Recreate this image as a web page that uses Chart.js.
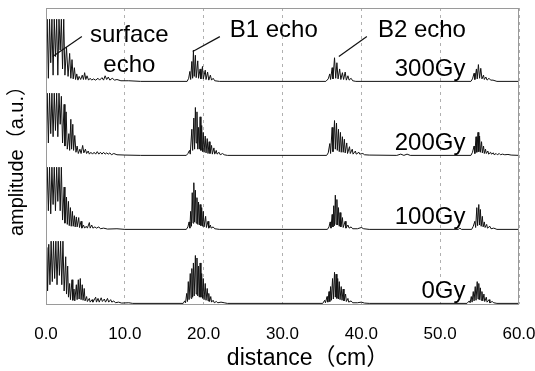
<!DOCTYPE html>
<html><head><meta charset="utf-8">
<script src="https://cdn.jsdelivr.net/npm/chart.js@4"></script>
<style>html,body{margin:0;padding:0;background:#fff}#wrap{width:535px;height:371px}</style>
</head><body><div id="wrap"><canvas id="c" width="535" height="371"></canvas></div>
<script>
// ---- data (distance in cm, amplitude in a.u., 1 = saturated) ----
const panelLabels = ['300Gy', '200Gy', '100Gy', '0Gy'];
const xTickLabels = ['0.0', '10.0', '20.0', '30.0', '40.0', '50.0', '60.0'];
const xTickValues = [0, 10, 20, 30, 40, 50, 60];

const wave300 = [
  [0,0.3],[0.15,1],[0.3,0.05],[0.45,1],[0.6,0.3],[0.75,1],[0.9,0.1],[1.05,1],[1.2,0.4],[1.35,1],[1.5,0.1],[1.65,1],[1.8,0.5],[1.95,1],[2.1,0.2],[2.25,1],[2.4,0.1],
  [2.6,0.55],[2.8,0.08],[3.0,0.45],[3.15,0.05],[3.3,0.35],[3.45,0.04],[3.6,0.22],[3.75,0.03],[3.9,0.12],[4.05,0.02],[4.2,0.08],[4.4,0.03],[4.6,0.1],[4.75,0.03],[4.9,0.14],[5.05,0.03],[5.2,0.09],[5.4,0.02],[5.6,0.05],[5.8,0.02],[6.0,0.04],[6.3,0.02],[6.6,0.05],[6.8,0.02],[7.1,0.06],[7.3,0.02],[7.5,0.09],[7.7,0.03],[7.9,0.07],[8.1,0.02],[8.4,0.05],[8.7,0.02],[9.0,0.03],[9.5,0.01],[10.5,0.01],[12,0],
  [17.9,0],[18.1,0.05],[18.25,0.16],[18.35,0.03],[18.5,0.32],[18.6,0.05],[18.7,0.5],[18.8,0.08],[18.95,0.42],[19.05,0.06],[19.25,0.33],[19.35,0.05],[19.55,0.2],[19.65,0.04],[19.85,0.24],[19.95,0.04],[20.2,0.18],[20.3,0.03],[20.5,0.15],[20.65,0.02],[20.85,0.1],[21.0,0.02],[21.2,0.05],[21.4,0.01],[22,0],
  [35.5,0],[35.8,0.04],[36.0,0.12],[36.1,0.03],[36.3,0.22],[36.4,0.04],[36.6,0.38],[36.75,0.05],[36.9,0.3],[37.05,0.04],[37.25,0.2],[37.4,0.03],[37.6,0.14],[37.75,0.03],[37.95,0.15],[38.1,0.02],[38.3,0.09],[38.45,0.02],[38.7,0.05],[38.9,0.01],[39.3,0],
  [53.9,0],[54.1,0.04],[54.3,0.13],[54.4,0.03],[54.6,0.2],[54.7,0.04],[54.85,0.27],[55.0,0.05],[55.15,0.21],[55.3,0.04],[55.5,0.1],[55.6,0.03],[55.8,0.07],[55.95,0.02],[56.2,0.05],[56.4,0.02],[56.7,0.02],[57.2,0],[60,0]
];

const wave200 = [
  [0,0.1],[0.15,1],[0.3,0.2],[0.45,1],[0.6,0.35],[0.75,1],[0.9,0.3],[1.05,1],[1.2,0.4],[1.35,1],[1.5,0.3],[1.65,1],[1.8,0.5],[1.95,0.95],[2.1,0.2],[2.3,0.82],[2.4,0.15],[2.55,0.7],[2.7,0.1],
  [2.9,0.35],[3.0,0.08],[3.15,0.58],[3.25,0.1],[3.4,0.5],[3.5,0.08],[3.65,0.32],[3.8,0.05],[3.95,0.15],[4.1,0.03],[4.3,0.1],[4.45,0.03],[4.65,0.16],[4.8,0.04],[5.0,0.1],[5.15,0.03],[5.35,0.07],[5.5,0.02],[5.7,0.05],[5.9,0.02],[6.1,0.05],[6.3,0.02],[6.5,0.06],[6.7,0.02],[6.9,0.05],[7.1,0.02],[7.3,0.05],[7.5,0.02],[7.7,0.04],[7.9,0.02],[8.1,0.04],[8.3,0.01],[8.6,0.03],[9.0,0.01],[10,0.005],[12,0],
  [17.8,0],[18.0,0.03],[18.2,0.08],[18.3,0.02],[18.5,0.42],[18.6,0.08],[18.75,0.6],[18.85,0.1],[18.95,0.77],[19.05,0.2],[19.15,0.7],[19.25,0.1],[19.35,0.45],[19.45,0.1],[19.55,0.62],[19.65,0.08],[19.75,0.48],[19.85,0.06],[19.95,0.37],[20.05,0.05],[20.2,0.31],[20.3,0.04],[20.45,0.27],[20.55,0.03],[20.7,0.22],[20.8,0.03],[21.0,0.16],[21.1,0.02],[21.3,0.12],[21.4,0.02],[21.6,0.08],[21.7,0.02],[21.95,0.05],[22.1,0.01],[22.4,0.03],[22.6,0.01],[23,0],
  [35.6,0],[35.8,0.04],[36.0,0.19],[36.1,0.03],[36.3,0.45],[36.4,0.06],[36.6,0.56],[36.7,0.1],[36.85,0.52],[36.95,0.08],[37.1,0.42],[37.2,0.06],[37.35,0.37],[37.45,0.05],[37.6,0.3],[37.7,0.05],[37.85,0.26],[37.95,0.04],[38.15,0.2],[38.25,0.03],[38.5,0.14],[38.6,0.03],[38.85,0.1],[38.95,0.02],[39.25,0.07],[39.35,0.02],[39.7,0.05],[39.8,0.02],[40.2,0.03],[40.4,0.01],[41,0.005],[44.5,0],[45,0.02],[45.4,0],[45.8,0.02],[46.2,0],
  [53.9,0],[54.1,0.05],[54.3,0.15],[54.4,0.03],[54.55,0.3],[54.65,0.05],[54.8,0.37],[54.9,0.06],[55.0,0.31],[55.1,0.05],[55.25,0.22],[55.35,0.04],[55.5,0.15],[55.6,0.03],[55.75,0.1],[55.85,0.03],[56.05,0.07],[56.15,0.02],[56.4,0.05],[56.5,0.02],[56.75,0.04],[56.85,0.01],[57.1,0.03],[57.25,0.01],[57.5,0.03],[57.65,0.01],[57.9,0.02],[58.2,0.01],[58.6,0.015],[59,0.005],[60,0]
];

const wave100 = [
  [0,0.2],[0.15,1],[0.3,0.3],[0.45,1],[0.6,0.25],[0.75,1],[0.9,0.4],[1.05,1],[1.2,0.3],[1.35,1],[1.5,0.45],[1.65,1],[1.8,0.3],[1.95,1],[2.1,0.15],[2.3,0.68],[2.4,0.1],[2.6,0.52],[2.7,0.08],
  [2.85,0.45],[2.95,0.06],[3.1,0.35],[3.2,0.05],[3.35,0.29],[3.45,0.05],[3.6,0.22],[3.7,0.04],[3.85,0.2],[3.95,0.04],[4.15,0.19],[4.25,0.03],[4.45,0.13],[4.55,0.02],[4.75,0.07],[4.9,0.02],[5.1,0.05],[5.25,0.02],[5.5,0.11],[5.6,0.02],[5.8,0.07],[5.95,0.02],[6.2,0.04],[6.4,0.02],[6.7,0.04],[6.9,0.01],[7.3,0.02],[7.8,0.005],[9,0.01],[10,0],
  [17.8,0],[18.0,0.04],[18.15,0.12],[18.25,0.02],[18.35,0.29],[18.45,0.05],[18.55,0.59],[18.65,0.1],[18.75,0.75],[18.85,0.12],[18.95,0.63],[19.05,0.1],[19.15,0.51],[19.25,0.08],[19.35,0.44],[19.45,0.07],[19.55,0.4],[19.65,0.06],[19.75,0.35],[19.85,0.05],[19.95,0.29],[20.05,0.04],[20.25,0.21],[20.35,0.03],[20.55,0.13],[20.65,0.02],[20.85,0.07],[20.95,0.02],[21.2,0.04],[21.4,0.01],[22,0],
  [35.7,0],[35.9,0.04],[36.05,0.12],[36.15,0.02],[36.3,0.24],[36.4,0.04],[36.5,0.38],[36.6,0.06],[36.7,0.55],[36.8,0.08],[36.9,0.48],[37.0,0.07],[37.1,0.35],[37.2,0.05],[37.3,0.27],[37.4,0.04],[37.6,0.19],[37.7,0.03],[37.95,0.13],[38.05,0.02],[38.3,0.07],[38.45,0.02],[38.7,0.04],[38.9,0.01],[39.5,0.01],[40.0,0.03],[40.3,0.01],[41,0],
  [52.3,0],[52.5,0.02],[52.7,0],[54.0,0],[54.2,0.05],[54.4,0.13],[54.5,0.03],[54.65,0.35],[54.75,0.06],[54.9,0.4],[55.0,0.07],[55.1,0.32],[55.2,0.05],[55.35,0.21],[55.45,0.04],[55.6,0.12],[55.7,0.03],[55.9,0.08],[56.0,0.02],[56.3,0.05],[56.45,0.01],[56.8,0.02],[57.2,0],[60,0]
];

const wave0 = [
  [0,0.3],[0.1,0.9],[0.2,0.2],[0.35,0.95],[0.5,0.3],[0.65,1],[0.8,0.35],[0.95,1],[1.1,0.4],[1.25,1],[1.4,0.3],[1.55,1],[1.7,0.45],[1.85,1],[2.0,0.3],[2.15,1],[2.3,0.2],[2.5,0.75],[2.6,0.15],[2.75,0.6],[2.85,0.1],
  [3.0,0.32],[3.1,0.06],[3.3,0.38],[3.4,0.05],[3.55,0.23],[3.65,0.04],[3.85,0.3],[3.95,0.06],[4.1,0.38],[4.2,0.07],[4.35,0.4],[4.45,0.06],[4.6,0.3],[4.7,0.05],[4.85,0.24],[4.95,0.04],[5.15,0.11],[5.25,0.03],[5.5,0.08],[5.6,0.02],[5.85,0.06],[5.95,0.02],[6.3,0.1],[6.4,0.02],[6.6,0.08],[6.75,0.02],[7.0,0.09],[7.15,0.03],[7.4,0.07],[7.55,0.02],[7.8,0.08],[7.95,0.02],[8.2,0.06],[8.35,0.02],[8.6,0.04],[8.8,0.01],[9.2,0.02],[9.6,0.005],[10.5,0.01],[11,0],
  [17.4,0],[17.6,0.04],[17.7,0.01],[17.85,0.16],[17.95,0.03],[18.05,0.35],[18.15,0.06],[18.3,0.48],[18.4,0.08],[18.5,0.56],[18.6,0.1],[18.7,0.65],[18.8,0.12],[18.95,0.77],[19.05,0.15],[19.15,0.73],[19.25,0.12],[19.35,0.6],[19.45,0.1],[19.55,0.65],[19.65,0.1],[19.75,0.48],[19.85,0.08],[19.95,0.4],[20.05,0.06],[20.2,0.32],[20.3,0.05],[20.45,0.24],[20.55,0.04],[20.65,0.16],[20.75,0.03],[20.9,0.11],[21.0,0.02],[21.2,0.05],[21.35,0.01],[21.6,0.03],[21.8,0.01],[22.2,0.02],[22.6,0.01],[23,0],
  [35.1,0],[35.35,0.05],[35.45,0.01],[35.65,0.11],[35.75,0.02],[35.9,0.19],[36.0,0.03],[36.1,0.27],[36.2,0.05],[36.35,0.4],[36.45,0.07],[36.6,0.5],[36.7,0.1],[36.8,0.47],[36.9,0.08],[37.0,0.4],[37.1,0.07],[37.2,0.35],[37.3,0.06],[37.45,0.27],[37.55,0.05],[37.7,0.23],[37.8,0.04],[38.0,0.15],[38.1,0.03],[38.3,0.08],[38.4,0.02],[38.7,0.04],[38.9,0.01],[39.5,0.01],[40.0,0.02],[40.4,0.005],[41,0],
  [53.4,0],[53.7,0.04],[53.8,0.01],[53.95,0.11],[54.05,0.02],[54.2,0.19],[54.3,0.04],[54.45,0.27],[54.55,0.05],[54.7,0.35],[54.8,0.07],[54.9,0.32],[55.0,0.06],[55.1,0.25],[55.2,0.05],[55.3,0.19],[55.4,0.04],[55.55,0.15],[55.65,0.03],[55.85,0.1],[55.95,0.02],[56.2,0.06],[56.3,0.01],[56.6,0.03],[56.8,0.01],[57.2,0],[60,0]
];

const waves = [wave300, wave200, wave100, wave0];

// ---- annotations (data units: x in cm, y in panel amplitude) ----
const echoNotes = [
  {text: 'surface', x: 10.57, y: 0.63, align: 'center'},
  {text: 'echo',    x: 10.57, y: 0.15, align: 'center'},
  {text: 'B1 echo', x: 23.3,  y: 0.72, align: 'left'},
  {text: 'B2 echo', x: 42.1,  y: 0.72, align: 'left'}
];
const leaderLines = [
  [4.55, 0.72, 0.86, 0.40],
  [22.05, 0.72, 18.62, 0.48],
  [40.7, 0.72, 37.15, 0.40]
];
const panelLabelPos = {x: 53.2, y: 0.08};

const FONT = "'Liberation Sans', Arial, 'Noto Sans CJK JP', sans-serif";
const axisIds = ['p0', 'p1', 'p2', 'p3'];   // p0 = top panel (300Gy)

// Stacked axes are laid out bottom-up in definition order, so define the bottom panel first.
const yScales = {};
axisIds.slice().reverse().forEach(id => {
  yScales[id] = {
    type: 'linear', position: 'left', stack: 'panels', stackWeight: 1,
    min: -0.01, max: 1.18,
    ticks: {display: false},
    grid: {display: false, drawTicks: false},
    border: {display: false},
    afterFit: s => { s.width = 0; }
  };
});

const annoPlugin = {
  id: 'anno',
  afterDraw(chart) {
    const ctx = chart.ctx;
    const xs = chart.scales.x;
    const ca = chart.chartArea;
    const top = chart.scales.p0;
    ctx.save();
    // frame
    ctx.strokeStyle = '#9a9a9a';
    ctx.lineWidth = 1;
    ctx.strokeRect(Math.round(ca.left) + 0.5, Math.round(ca.top) + 0.5,
                   Math.round(ca.right - ca.left) - 1, Math.round(ca.bottom - ca.top));
    // leader lines
    ctx.strokeStyle = '#111';
    ctx.lineWidth = 1.2;
    leaderLines.forEach(l => {
      ctx.beginPath();
      ctx.moveTo(xs.getPixelForValue(l[0]), top.getPixelForValue(l[1]));
      ctx.lineTo(xs.getPixelForValue(l[2]), top.getPixelForValue(l[3]));
      ctx.stroke();
    });
    // echo notes
    ctx.fillStyle = '#000';
    ctx.font = '24px ' + FONT;
    ctx.textBaseline = 'alphabetic';
    echoNotes.forEach(n => {
      ctx.textAlign = n.align;
      ctx.fillText(n.text, xs.getPixelForValue(n.x), top.getPixelForValue(n.y));
    });
    // panel labels
    ctx.textAlign = 'right';
    panelLabels.forEach((lab, i) => {
      const ys = chart.scales[axisIds[i]];
      ctx.fillText(lab, xs.getPixelForValue(panelLabelPos.x), ys.getPixelForValue(panelLabelPos.y));
    });
    // axis titles
    ctx.font = '23px ' + FONT;
    ctx.textAlign = 'center';
    ctx.fillText('distance（cm）', 308, 365);
    ctx.translate(23, (ca.top + ca.bottom) / 2);
    ctx.rotate(-Math.PI / 2);
    ctx.font = '20px ' + FONT;
    ctx.fillText('amplitude（a.u.）', 0, 0);
    ctx.restore();
  }
};

new Chart(document.getElementById('c'), {
  type: 'line',
  data: {
    datasets: waves.map((w, i) => ({
      label: panelLabels[i],
      data: w,
      yAxisID: axisIds[i],
      borderColor: '#111',
      borderWidth: 1,
      pointRadius: 0,
      tension: 0,
      fill: false
    }))
  },
  options: {
    responsive: false,
    animation: false,
    layout: {padding: {left: 46, top: 8, right: 0, bottom: 0}},
    plugins: {legend: {display: false}, tooltip: {enabled: false}},
    scales: Object.assign({
      x: {
        type: 'linear', position: 'bottom', min: 0, max: 60,
        afterFit: s => { s.height = 67; s.paddingLeft = 0; s.paddingRight = 16; },
        afterBuildTicks: s => { s.ticks = xTickValues.map(v => ({value: v})); },
        ticks: {
          autoSkip: false, maxRotation: 0, padding: 20, color: '#000',
          font: {family: FONT, size: 17},
          callback: (v, i) => xTickLabels[i]
        },
        grid: {color: '#b0b0b0', lineWidth: 1, drawTicks: false},
        border: {display: false, dash: [3, 4]}
      }
    }, yScales)
  },
  plugins: [annoPlugin]
});
</script>
</body></html>
